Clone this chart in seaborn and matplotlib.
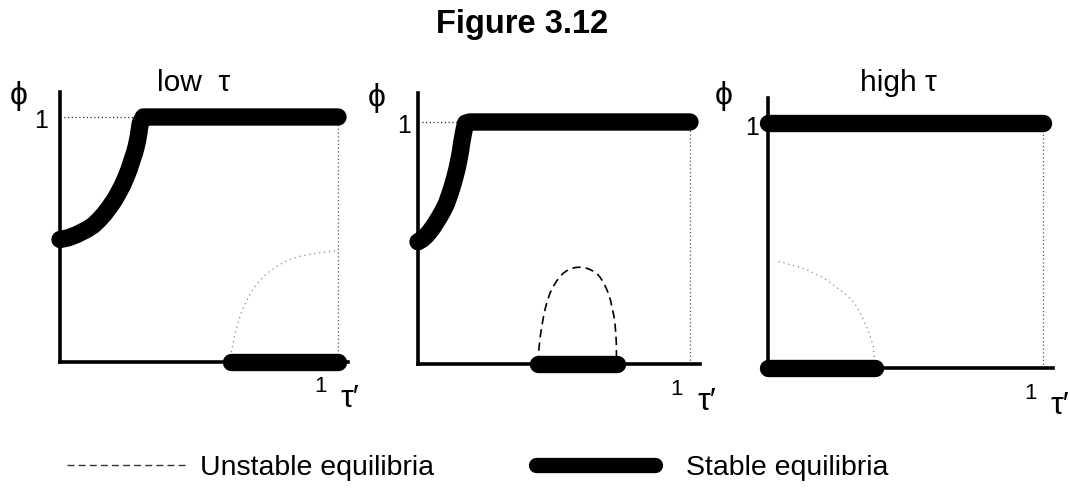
import matplotlib
matplotlib.use("Agg")
import matplotlib.pyplot as plt
from matplotlib.lines import Line2D
import seaborn as sns

# ---------------- data ----------------
panel_titles = ["low  \u03c4", "", "high \u03c4"]

p1_stable_top_x = [0.0, 0.03, 0.06, 0.095, 0.12, 0.14, 0.16, 0.179, 0.195, 0.21, 0.225, 0.238,
                   0.249, 0.258, 0.267, 0.274, 0.279, 0.283, 0.286, 0.289, 0.30, 1.0]
p1_stable_top_y = [0.50, 0.507, 0.52, 0.54, 0.558, 0.58, 0.605, 0.634, 0.66, 0.69, 0.722, 0.756,
                   0.788, 0.82, 0.85, 0.879, 0.905, 0.93, 0.955, 0.976, 1.0, 1.0]
p1_stable_bot_x = [0.615, 1.0]
p1_stable_bot_y = [0.0, 0.0]
p1_unstable_x = [0.61, 0.617, 0.625, 0.633, 0.643, 0.653, 0.665, 0.677, 0.69, 0.707, 0.725, 0.743,
                 0.762, 0.785, 0.81, 0.833, 0.857, 0.89, 0.93, 0.965, 1.0]
p1_unstable_y = [0.0, 0.045, 0.09, 0.132, 0.171, 0.205, 0.235, 0.263, 0.29, 0.316, 0.34, 0.36,
                 0.376, 0.394, 0.41, 0.421, 0.43, 0.438, 0.445, 0.45, 0.455]

p2_stable_top_x = [0.0, 0.015, 0.03, 0.043, 0.056, 0.068, 0.08, 0.093, 0.105, 0.115, 0.125, 0.134,
                   0.142, 0.148, 0.153, 0.157, 0.16, 0.164, 0.168, 0.172, 0.175, 0.19, 1.0]
p2_stable_top_y = [0.505, 0.515, 0.53, 0.547, 0.567, 0.588, 0.61, 0.636, 0.664, 0.696, 0.73, 0.765,
                   0.80, 0.83, 0.86, 0.885, 0.91, 0.935, 0.96, 0.98, 0.995, 1.0, 1.0]
p2_stable_bot_x = [0.44, 0.73]
p2_stable_bot_y = [0.0, 0.0]
p2_unstable_x = [0.442, 0.443, 0.446, 0.45, 0.455, 0.461, 0.468, 0.476, 0.485, 0.496, 0.508, 0.52,
                 0.534, 0.549, 0.565, 0.58, 0.596, 0.612, 0.627, 0.642, 0.657, 0.669, 0.68, 0.69,
                 0.70, 0.708, 0.714, 0.72, 0.724, 0.727, 0.729, 0.73]
p2_unstable_y = [0.0, 0.04, 0.08, 0.118, 0.154, 0.193, 0.23, 0.262, 0.292, 0.318, 0.34, 0.359,
                 0.375, 0.387, 0.395, 0.399, 0.40, 0.398, 0.393, 0.385, 0.375, 0.359, 0.34, 0.318,
                 0.292, 0.262, 0.23, 0.2, 0.168, 0.13, 0.09, 0.0]

p3_stable_top_x = [0.0, 1.0]
p3_stable_top_y = [1.0, 1.0]
p3_stable_bot_x = [0.0, 0.39]
p3_stable_bot_y = [0.0, 0.0]
p3_unstable_x = [0.038, 0.06, 0.08, 0.104, 0.128, 0.15, 0.17, 0.192, 0.213, 0.237, 0.26, 0.283,
                 0.304, 0.318, 0.33, 0.342, 0.353, 0.362, 0.37, 0.377, 0.383, 0.387, 0.389]
p3_unstable_y = [0.434, 0.429, 0.422, 0.415, 0.407, 0.397, 0.385, 0.373, 0.359, 0.34, 0.32, 0.3,
                 0.278, 0.258, 0.235, 0.21, 0.182, 0.158, 0.135, 0.111, 0.087, 0.045, 0.0]

# dotted guide lines: horizontal at phi=1 up to where the curve reaches 1
guide_h_end = [0.30, 0.19, 0.0]

legend_labels = ["Unstable equilibria", "Stable equilibria"]

# ---------------- styling ----------------
sns.set_theme(style="white")
plt.rcParams["font.family"] = ["Liberation Sans", "DejaVu Sans"]
plt.rcParams["text.color"] = "black"

W, H = 1070, 494
fig = plt.figure(figsize=(W / 100, H / 100), dpi=100)


def fx(px):
    return px / W


def fy(py):
    return 1 - py / H


# axis geometry in pixels: (x of tau'=0, px per unit x, y of phi=0, px per unit y, ylim top)
geoms = [(60, 278, 362, 245, 1.10), (418, 272, 364, 242, 1.12), (768, 275, 368, 245, 1.10)]
XMAX = 1.037

panels = [
    (p1_stable_top_x, p1_stable_top_y, p1_stable_bot_x, p1_stable_bot_y, p1_unstable_x, p1_unstable_y, "dot"),
    (p2_stable_top_x, p2_stable_top_y, p2_stable_bot_x, p2_stable_bot_y, p2_unstable_x, p2_unstable_y, "dash"),
    (p3_stable_top_x, p3_stable_top_y, p3_stable_bot_x, p3_stable_bot_y, p3_unstable_x, p3_unstable_y, "dot"),
]

STABLE_LW = 12.5
axes = []
for i, ((x0, ux, y0, uy, ytop), pdata) in enumerate(zip(geoms, panels)):
    ax = fig.add_axes([fx(x0), (H - y0) / H, XMAX * ux / W, ytop * uy / H])
    axes.append(ax)
    stx, sty, sbx, sby, ux_, uy_, ustyle = pdata
    ax.set_xlim(0, XMAX)
    ax.set_ylim(0, ytop)
    for s in ["top", "right"]:
        ax.spines[s].set_visible(False)
    for s in ["left", "bottom"]:
        ax.spines[s].set_color("black")
        ax.spines[s].set_linewidth(2.6)
    ax.set_xticks([])
    ax.set_yticks([])
    ax.set_facecolor("white")

    # dotted guides
    ax.plot([1.0, 1.0], [0, 1.0], color="#555555", lw=0.9, linestyle=(0, (1, 2)), zorder=2)
    if guide_h_end[i] > 0:
        ax.plot([0, guide_h_end[i]], [1.0, 1.0], color="#333333", lw=0.9, linestyle=(0, (1, 2)), zorder=2)

    # unstable branch
    if ustyle == "dash":
        sns.lineplot(x=ux_, y=uy_, ax=ax, sort=False, estimator=None, color="black",
                     lw=1.2, linestyle=(0, (5, 3)), zorder=3)
    else:
        sns.lineplot(x=ux_, y=uy_, ax=ax, sort=False, estimator=None, color="#888888",
                     lw=0.9, linestyle=(0, (1, 3)), zorder=3)

    # stable branches
    for xs, ys in [(stx, sty), (sbx, sby)]:
        sns.lineplot(x=xs, y=ys, ax=ax, sort=False, estimator=None, color="black",
                     lw=STABLE_LW, solid_capstyle="round", solid_joinstyle="round",
                     zorder=5, clip_on=False)
    ax.set_xlabel("")
    ax.set_ylabel("")

# ---------------- text ----------------
fig.text(fx(522), fy(25), "Figure 3.12", ha="center", va="center",
         fontsize=23.5, fontweight="bold", color="black")

# panel titles
fig.text(fx(194), fy(83), panel_titles[0], ha="center", va="center", fontsize=21.5, color="black")
fig.text(fx(898), fy(83), panel_titles[2], ha="center", va="center", fontsize=21.5, color="black")

# phi labels
for (px, py) in [(19, 96), (377, 98), (724, 96)]:
    fig.text(fx(px), fy(py), "\u03d5", ha="center", va="center", fontsize=23, color="black")

# "1" on the phi axis
for (px, py) in [(41, 121), (404, 126), (752, 128)]:
    fig.text(fx(px), fy(py), "1", ha="center", va="center", fontsize=18, color="black")

# "1 tau'" at end of x axis
for (px1, py1, px2, py2) in [(320, 386, 350, 399), (677, 389, 707, 402), (1031, 393, 1060, 406)]:
    fig.text(fx(px1), fy(py1), "1", ha="center", va="center", fontsize=16, color="black")
    fig.text(fx(px2), fy(py2), "\u03c4\u2032", ha="center", va="center", fontsize=23, color="black")

# ---------------- legend (two single-entry legends) ----------------
leg_prop = {"family": ["Liberation Sans Narrow", "Liberation Sans", "DejaVu Sans"], "size": 20.5}
h_unstable = Line2D([0], [0], color="#333333", lw=1.0, linestyle=(0, (5, 3)))
h_stable = Line2D([0], [0], color="black", lw=11, solid_capstyle="round")

leg1 = fig.legend([h_unstable], [legend_labels[0]], loc="center left",
                  bbox_to_anchor=(fx(56), fy(468)), frameon=False, handlelength=4.2,
                  handletextpad=0.45, borderaxespad=0, prop=leg_prop)
leg2 = fig.legend([h_stable], [legend_labels[1]], loc="center left",
                  bbox_to_anchor=(fx(525), fy(468)), frameon=False, handlelength=4.15,
                  handletextpad=1.1, borderaxespad=0, prop=leg_prop)
for leg in (leg1, leg2):
    for t in leg.get_texts():
        t.set_color("black")

fig.savefig("out.png", dpi=100, facecolor="white")
